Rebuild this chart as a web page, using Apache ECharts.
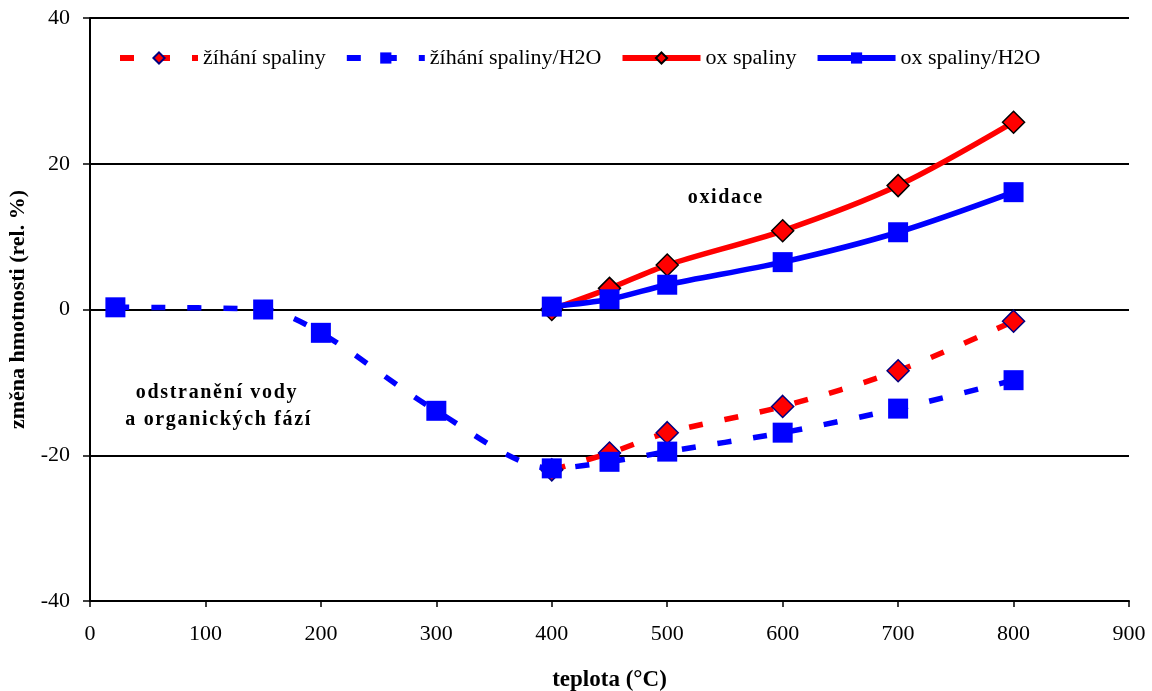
<!DOCTYPE html>
<html>
<head>
<meta charset="utf-8">
<script src="https://cdn.jsdelivr.net/npm/echarts@6/dist/echarts.min.js"></script>
<style>
html,body{margin:0;padding:0;background:#fff;}
#c{width:1152px;height:691px;}
</style>
</head>
<body>
<div id="c"></div>
<script>
// Data
var seriesNames = ['žíhání spaliny', 'žíhání spaliny/H2O', 'ox spaliny', 'ox spaliny/H2O'];
var zihaniSpaliny = [[400, -22.0], [450, -19.7], [500, -16.9], [600, -13.3], [700, -8.4], [800, -1.6]];
var zihaniSpalinyH2O = [[22, 0.3], [150, 0.0], [200, -3.2], [300, -13.9], [400, -21.8], [450, -20.9], [500, -19.5], [600, -16.9], [700, -13.6], [800, -9.7]];
var oxSpaliny = [[400, 0.0], [450, 2.9], [500, 6.1], [600, 10.8], [700, 17.0], [800, 25.7]];
var oxSpalinyH2O = [[400, 0.4], [450, 1.4], [500, 3.4], [600, 6.5], [700, 10.6], [800, 16.1]];
var xTicks = [0, 100, 200, 300, 400, 500, 600, 700, 800, 900];
var yTicks = [-40, -20, 0, 20, 40];
var annotations = [
  {text: 'oxidace', x: 550, y: 15.3},
  {text: 'odstranění vody\na organických fází', x: 110, y: -13.3}
];

var FONT = '"Liberation Serif", "Times New Roman", serif';
var RED = '#FF0000', BLUE = '#0000FF';
var DASH = [14, 22];

var chart = echarts.init(document.getElementById('c'), null, {renderer: 'canvas'});
var option = {
  animation: false,
  backgroundColor: '#ffffff',
  grid: {left: 90, right: 23, top: 18, bottom: 90, containLabel: false, outerBoundsMode: 'none'},
  legend: {
    left: 112, top: 42,
    itemWidth: 78, itemHeight: 14, itemGap: 18,
    lineStyle: {width: 6},
    textStyle: {fontFamily: FONT, fontSize: 22, color: '#000'},
    data: seriesNames
  },
  xAxis: {
    type: 'value', min: xTicks[0], max: xTicks[xTicks.length - 1], interval: 100,
    name: 'teplota (°C)', nameLocation: 'middle', nameGap: 68,
    nameTextStyle: {fontFamily: FONT, fontSize: 23, fontWeight: 'bold', color: '#000'},
    axisLine: {onZero: false, lineStyle: {color: '#000', width: 2}},
    axisTick: {show: true, inside: false, length: 6, lineStyle: {color: '#000', width: 1.5}},
    axisLabel: {fontFamily: FONT, fontSize: 22, color: '#000', margin: 22},
    splitLine: {show: false}
  },
  yAxis: {
    type: 'value', min: yTicks[0], max: yTicks[yTicks.length - 1], interval: 20,
    name: 'změna hmotnosti (rel. %)', nameLocation: 'middle', nameGap: 60, nameRotate: 90,
    nameTextStyle: {fontFamily: FONT, fontSize: 22, fontWeight: 'bold', color: '#000'},
    axisLine: {show: true, onZero: false, lineStyle: {color: '#000', width: 2}},
    axisTick: {show: true, inside: false, length: 7, lineStyle: {color: '#000', width: 1.5}},
    axisLabel: {fontFamily: FONT, fontSize: 22, color: '#000', margin: 20},
    splitLine: {show: true, lineStyle: {color: '#000', width: 2}}
  },
  series: [
    {
      name: seriesNames[0], type: 'line', data: zihaniSpaliny, smooth: 0.3,
      symbol: 'diamond', symbolSize: 22,
      lineStyle: {color: RED, width: 5.5, type: DASH},
      itemStyle: {color: RED, borderColor: '#000080', borderWidth: 1.5},
      z: 2
    },
    {
      name: seriesNames[1], type: 'line', data: zihaniSpalinyH2O, smooth: 0.3,
      symbol: 'rect', symbolSize: 20,
      lineStyle: {color: BLUE, width: 5.5, type: DASH},
      itemStyle: {color: BLUE, borderColor: BLUE, borderWidth: 0},
      z: 3
    },
    {
      name: seriesNames[2], type: 'line', data: oxSpaliny, smooth: 0.3,
      symbol: 'diamond', symbolSize: 22,
      lineStyle: {color: RED, width: 5.5},
      itemStyle: {color: RED, borderColor: '#000', borderWidth: 1.5},
      z: 4
    },
    {
      name: seriesNames[3], type: 'line', data: oxSpalinyH2O, smooth: 0.3,
      symbol: 'rect', symbolSize: 20,
      lineStyle: {color: BLUE, width: 5.5},
      itemStyle: {color: BLUE, borderColor: BLUE, borderWidth: 0},
      z: 5,
      markPoint: {
        symbol: 'circle', symbolSize: 0,
        label: {show: true, color: '#000', fontFamily: FONT, fontSize: 20, fontWeight: 'bold', lineHeight: 27, align: 'center'},
        data: annotations.map(function (a) {
          return {coord: [a.x, a.y], value: a.text, label: {formatter: a.text.split('').join('\u200A')}};
        })
      }
    }
  ]
};
chart.setOption(option);
</script>
</body>
</html>
